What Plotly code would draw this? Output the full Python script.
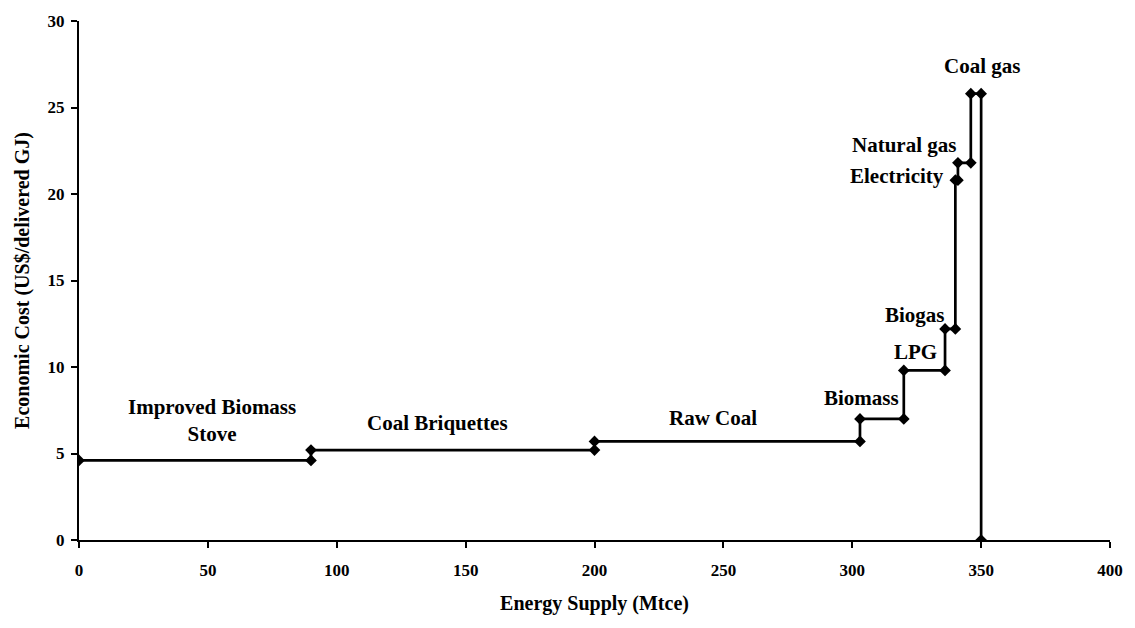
import numpy as np
import plotly.graph_objects as go

# Data
categories = ["Improved Biomass Stove", "Coal Briquettes", "Raw Coal", "Biomass",
              "LPG", "Biogas", "Electricity", "Natural gas", "Coal gas"]
supply_mtce = [90, 110, 103, 17, 16, 4, 1, 5, 4]
cost_usd_gj = [4.6, 5.2, 5.7, 7.0, 9.8, 12.2, 20.8, 21.8, 25.8]

label_text = ["Improved Biomass<br>Stove", "Coal Briquettes", "Raw Coal", "Biomass",
              "LPG", "Biogas", "Electricity", "Natural gas", "Coal gas"]
label_x = [51.5, 139, 246, 303.5, 324.5, 324.5, 317.5, 320, 350.5]
label_y = [6.9, 6.75, 7.05, 8.2, 10.85, 13.0, 21.05, 22.85, 27.4]

x_ticks = [0, 50, 100, 150, 200, 250, 300, 350, 400]
y_ticks = [0, 5, 10, 15, 20, 25, 30]

# Build step curve from cumulative supply
edges = np.concatenate([[0], np.cumsum(supply_mtce)])
xs, ys = [], []
for i, c in enumerate(cost_usd_gj):
    xs += [edges[i], edges[i + 1]]
    ys += [c, c]
xs.append(edges[-1])
ys.append(0)

font_serif = "Liberation Serif"

fig = go.Figure()
fig.add_trace(go.Scatter(
    x=xs, y=ys, mode="lines+markers",
    line=dict(color="black", width=2.7),
    marker=dict(symbol="diamond", size=9, color="black"),
    showlegend=False, hoverinfo="skip",
))

for t, lx, ly in zip(label_text, label_x, label_y):
    fig.add_annotation(x=lx, y=ly, text=f"<b>{t}</b>", showarrow=False,
                       font=dict(family=font_serif, size=21, color="black"),
                       xanchor="center", yanchor="middle")

fig.update_layout(
    width=1135, height=628,
    margin=dict(l=79, r=21, t=20, b=88),
    paper_bgcolor="white", plot_bgcolor="white",
    font=dict(family=font_serif, color="black"),
)
fig.update_xaxes(
    range=[0, 400], tickvals=x_ticks, ticktext=[f"<b>{v}</b>" for v in x_ticks],
    showgrid=False, zeroline=False, showline=True, linecolor="black", linewidth=2,
    ticks="outside", ticklen=6, tickwidth=2, tickcolor="black",
    ticklabelstandoff=8,
    tickfont=dict(family=font_serif, size=17, color="black"),
    title=dict(text="<b>Energy Supply (Mtce)</b>", font=dict(family=font_serif, size=20), standoff=17),
)
fig.update_yaxes(
    range=[0, 30], tickvals=y_ticks, ticktext=[f"<b>{v}</b>" for v in y_ticks],
    showgrid=False, zeroline=False, showline=True, linecolor="black", linewidth=2,
    ticks="outside", ticklen=6, tickwidth=2, tickcolor="black",
    ticklabelstandoff=3,
    tickfont=dict(family=font_serif, size=17, color="black"),
    title=dict(text="<b>Economic Cost (US$/delivered GJ)</b>", font=dict(family=font_serif, size=20), standoff=13),
)

fig.write_html("out.html")
